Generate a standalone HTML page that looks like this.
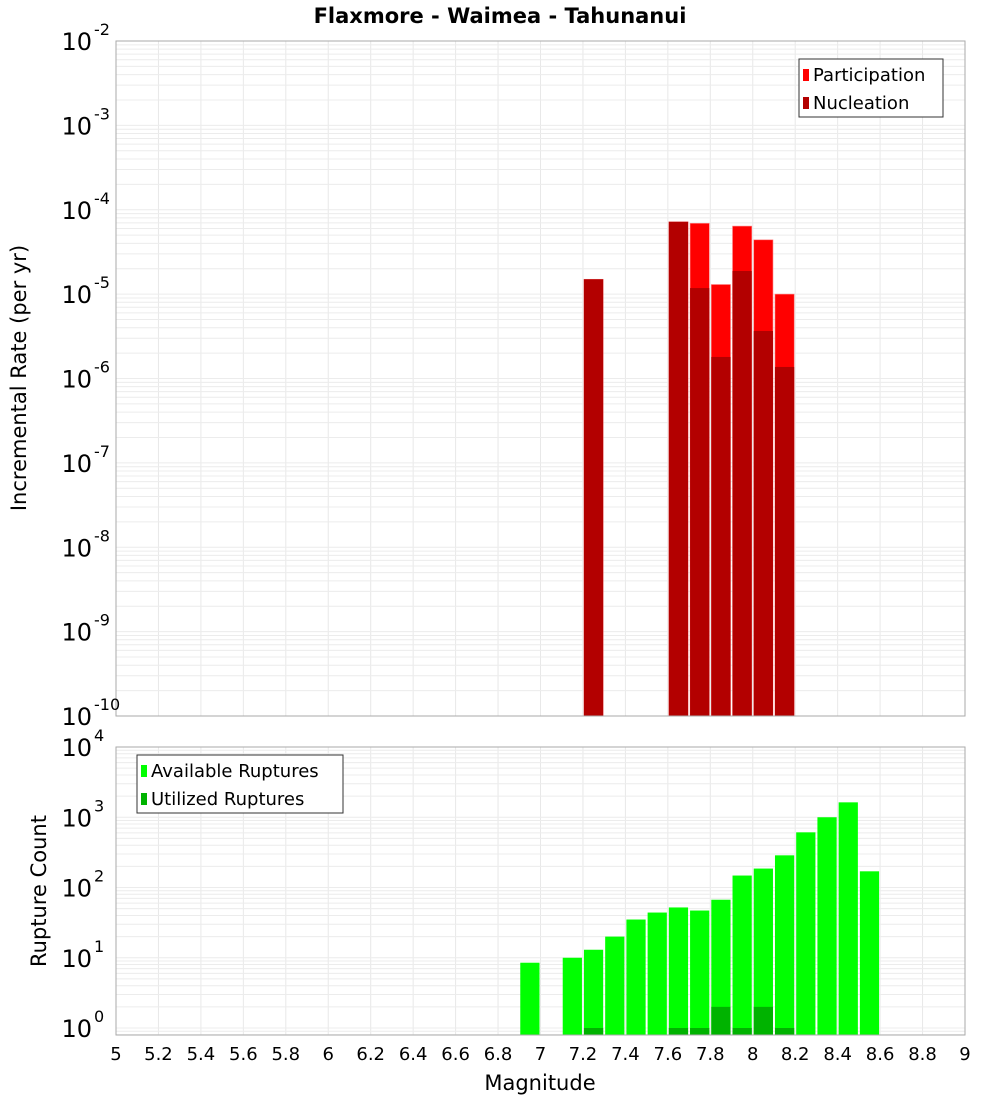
<!DOCTYPE html>
<html><head><meta charset="utf-8"><style>
body{margin:0;background:#fff;font-family:"Liberation Sans","DejaVu Sans",sans-serif}
svg text{font-family:"DejaVu Sans","Liberation Sans",sans-serif}
</style></head><body>
<svg id="c" width="1000" height="1100" viewBox="0 0 1000 1100" xmlns="http://www.w3.org/2000/svg">
<text x="500" y="23" text-anchor="middle" font-size="21" font-weight="bold">Flaxmore - Waimea - Tahunanui</text>
<g id="grid"></g><g id="bars"></g><g id="axes"></g>
</svg>
<script>
const mags=[6.95,7.05,7.15,7.25,7.35,7.45,7.55,7.65,7.75,7.85,7.95,8.05,8.15,8.25,8.35,8.45,8.55];
const topMags=[7.25,7.65,7.75,7.85,7.95,8.05,8.15];
const participation=[1.5e-5,7.2e-5,6.9e-5,1.3e-5,6.4e-5,4.4e-5,1.0e-5];
const nucleation=[1.5e-5,7.2e-5,1.18e-5,1.8e-6,1.88e-5,3.66e-6,1.37e-6];
const available=[8.5,0,10,13,20,35,44,52,47,67,148,186,287,610,1000,1630,170];
const utilized=[0,0,0,1,0,0,0,1,1,2,1,2,1,0,0,0,0];
const xTicks=[5,5.2,5.4,5.6,5.8,6,6.2,6.4,6.6,6.8,7,7.2,7.4,7.6,7.8,8,8.2,8.4,8.6,8.8,9];
const topExps=[-2,-3,-4,-5,-6,-7,-8,-9,-10];
const botExps=[4,3,2,1,0];

const NS="http://www.w3.org/2000/svg";
const X0=116,X1=965;
const T0=41,T1=716,B0=747,B1=1035;
const x=m=>X0+(m-5)/4*(X1-X0);
const yT=v=>T0+(-2-Math.log10(v))*(T1-T0)/8;
const BD=70.25;
const yB=v=>B0+(4-Math.log10(v))*BD;
function el(p,tag,a){const e=document.createElementNS(NS,tag);for(const k in a)e.setAttribute(k,a[k]);p.appendChild(e);return e;}
const grid=document.getElementById('grid'),bars=document.getElementById('bars'),axes=document.getElementById('axes');

// panel backgrounds & grids
for(const [a,b] of [[T0,T1],[B0,B1]]){
  xTicks.forEach(t=>{const l=el(grid,'line',{x1:x(t),x2:x(t),y1:a,y2:b,stroke:'#e8e8e8'});
  
  });
}
for(let e=-10;e<-2;e++)for(let k=1;k<10;k++){const y=yT(k*Math.pow(10,e));
  const l=el(grid,'line',{x1:X0,x2:X1,y1:y,y2:y,stroke:'#ececec'});
  
  }
for(let e=-1;e<4;e++)for(let k=1;k<10;k++){const y=yB(k*Math.pow(10,e));if(y>B1||y<B0)continue;
  const l=el(grid,'line',{x1:X0,x2:X1,y1:y,y2:y,stroke:'#ececec'});
  
  }

const bw=(x(5.1)-x(5))-2;
topMags.forEach((m,i)=>{
  const r=el(bars,'rect',{x:x(m)-bw/2,y:yT(participation[i]),width:bw,height:T1-yT(participation[i]),fill:'#ff0000',stroke:'#ff8080','stroke-width':0.6});
  
  
  const n=el(bars,'rect',{x:x(m)-bw/2,y:yT(nucleation[i]),width:bw,height:T1-yT(nucleation[i]),fill:'#b30000'});
  
  
});
mags.forEach((m,i)=>{
  if(available[i]>0){const r=el(bars,'rect',{x:x(m)-bw/2,y:yB(available[i]),width:bw,height:B1-yB(available[i]),fill:'#00ff00'});
  
  }
  if(utilized[i]>0){const u=el(bars,'rect',{x:x(m)-bw/2,y:yB(utilized[i]),width:bw,height:B1-yB(utilized[i]),fill:'#00b300'});
  
  }
});

// frames
for(const [a,b,n] of [[T0,T1,'top-plot-frame'],[B0,B1,'bottom-plot-frame']]){
  const f=el(axes,'rect',{x:X0,y:a,width:X1-X0,height:b-a,fill:'none',stroke:'#aaa'});
  
  
}
function pow(yv,e,name){
  const t=el(axes,'text',{x:112,y:yv+9,'text-anchor':'end','font-size':24});
  
  
  t.textContent='10';
  const s=el(axes,'text',{x:112,y:yv-6,'font-size':16});
  
  
  s.textContent=e;
  s.setAttribute('x',94); s.setAttribute('text-anchor','start');
  t.setAttribute('x',92);
}
topExps.forEach(e=>pow(yT(Math.pow(10,e)),e,'top-y-tick-label'));
botExps.forEach(e=>pow(yB(Math.pow(10,e)),e,'bottom-y-tick-label'));
xTicks.forEach(t=>{const tx=el(axes,'text',{x:x(t),y:1060,'text-anchor':'middle','font-size':18});
  
  
  tx.textContent=String(t);});
const xt=el(axes,'text',{x:540,y:1090,'text-anchor':'middle','font-size':21});


xt.textContent='Magnitude';
const yt1=el(axes,'text',{x:0,y:0,'text-anchor':'middle','font-size':21,transform:'translate(26,378) rotate(-90)'});


yt1.textContent='Incremental Rate (per yr)';
const yt2=el(axes,'text',{x:0,y:0,'text-anchor':'middle','font-size':21,transform:'translate(46,891) rotate(-90)'});


yt2.textContent='Rupture Count';

function legend(lx,ly,w,items,name){
  const g=el(axes,'g',{});
  
  
  el(g,'rect',{x:lx,y:ly,width:w,height:58,fill:'#fff',stroke:'#333'});
  items.forEach((it,i)=>{
    const s=el(g,'rect',{x:lx+4,y:ly+10+i*28,width:6,height:12,fill:it[1]});
    
    
    const t=el(g,'text',{x:lx+14,y:ly+22+i*28,'font-size':18});
    
    
    t.textContent=it[0];
  });
}
legend(799,59,144,[['Participation','#ff0000'],['Nucleation','#b30000']],'top-legend');
legend(137,755,206,[['Available Ruptures','#00ff00'],['Utilized Ruptures','#00b300']],'bottom-legend');
</script>
</body></html>
